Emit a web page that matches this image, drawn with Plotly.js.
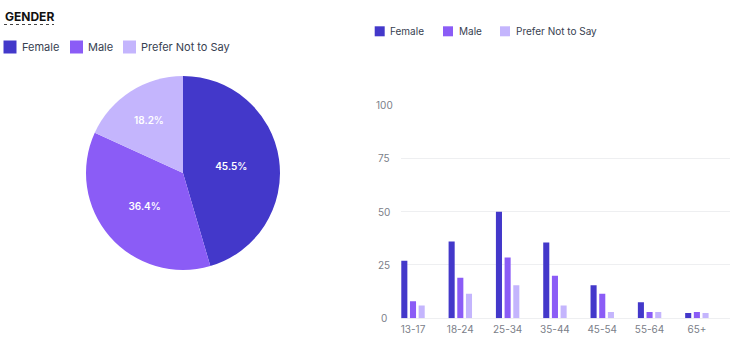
<!DOCTYPE html>
<html>
<head>
<meta charset="utf-8">
<script src="https://cdn.plot.ly/plotly-3.0.1.min.js"></script>
<style>html,body{margin:0;padding:0;background:#fff;}#chart{width:738px;height:351px;}</style>
</head>
<body>
<div id="chart"></div>
<script>
// ---- data ----
const genders = ["Female", "Male", "Prefer Not to Say"];
const genderShares = [5, 4, 2];
const ageGroups = ["13-17", "18-24", "25-34", "35-44", "45-54", "55-64", "65+"];
const femaleCounts = [27, 36, 50, 35.5, 15.5, 7.5, 2.5];
const maleCounts = [8, 19, 28.5, 20, 11.5, 3, 3];
const preferCounts = [6, 11.5, 15.5, 6, 3, 3, 2.5];
const yTicks = [0, 25, 50, 75, 100];
const colors = ["#4338ca", "#8b5cf6", "#c4b5fd"];
const chartTitle = "GENDER";

// ---- layout helpers ----
const W = 738, H = 351;
const px = x => x / W;
const py = y => 1 - y / H;
const FONT = "Inter, 'Open Sans', sans-serif";

const series = [femaleCounts, maleCounts, preferCounts];
const data = [{
  type: "pie",
  labels: genders,
  values: genderShares,
  sort: false,
  direction: "clockwise",
  rotation: 0,
  marker: {colors: colors, line: {width: 0}},
  textinfo: "percent",
  texttemplate: "%{percent:.1%}",
  textposition: "inside",
  insidetextorientation: "horizontal",
  textfont: {family: FONT, size: 10, color: "#ffffff", weight: 600},
  hoverinfo: "none",
  domain: {x: [px(86), px(280)], y: [py(270), py(76)]},
  showlegend: false
}];
series.forEach((vals, i) => {
  data.push({
    type: "bar",
    x: ageGroups,
    y: vals,
    name: genders[i],
    marker: {color: colors[i]},
    xaxis: "x", yaxis: "y",
    showlegend: false,
    hoverinfo: "none"
  });
});

const shapes = [];
const annotations = [];
// title
annotations.push({xref: "paper", yref: "paper", x: px(2.5), y: py(17), xanchor: "left", yanchor: "middle",
  text: "<b>" + chartTitle + "</b>", showarrow: false, font: {family: FONT, size: 12, color: "#111111"}});
shapes.push({type: "line", xref: "paper", yref: "paper", x0: px(4), x1: px(54), y0: py(24.5), y1: py(24.5),
  line: {color: "#444", width: 1, dash: "dot"}});

// pie legend
const pieLegSym = [3.5, 70, 123];
const pieLegTxt = [22, 88, 141];
genders.forEach((g, i) => {
  shapes.push({type: "rect", xref: "paper", yref: "paper", x0: px(pieLegSym[i]), x1: px(pieLegSym[i] + 13),
    y0: py(53.5), y1: py(40.5), fillcolor: colors[i], line: {width: 0}});
  annotations.push({xref: "paper", yref: "paper", x: px(pieLegTxt[i] - 2), y: py(47), xanchor: "left", yanchor: "middle",
    text: g, showarrow: false, font: {family: FONT, size: 11, color: "#374151"}});
});
// bar legend
const barLegSym = [374.7, 443, 500];
const barLegTxt = [390.5, 459, 516];
genders.forEach((g, i) => {
  shapes.push({type: "rect", xref: "paper", yref: "paper", x0: px(barLegSym[i]), x1: px(barLegSym[i] + 10),
    y0: py(36.3), y1: py(26.3), fillcolor: colors[i], line: {width: 0}});
  annotations.push({xref: "paper", yref: "paper", x: px(barLegTxt[i] - 2), y: py(31.3), xanchor: "left", yanchor: "middle",
    text: g, showarrow: false, font: {family: FONT, size: 10, color: "#374151"}});
});
// y tick labels (centered)
yTicks.forEach(t => {
  annotations.push({xref: "paper", yref: "y", x: px(384), y: t, xanchor: "center", yanchor: "middle",
    text: String(t), showarrow: false, font: {family: FONT, size: 10, color: "#7b8089"}});
});

const layout = {
  width: W, height: H,
  margin: {l: 0, r: 0, t: 0, b: 0},
  paper_bgcolor: "#ffffff", plot_bgcolor: "#ffffff",
  font: {family: FONT},
  showlegend: false,
  barmode: "group",
  bargap: 0.45,
  bargroupgap: 0.3,
  xaxis: {
    domain: [px(400.7), px(730)],
    range: [-0.26, 6.7],
    type: "category",
    showgrid: false, zeroline: false, showline: false,
    ticks: "", tickfont: {family: FONT, size: 10, color: "#7b8089"},
    ticklabelstandoff: 4,
    automargin: false, fixedrange: true
  },
  yaxis: {
    domain: [py(318.3), py(105)],
    range: [0, 100],
    tickvals: yTicks,
    showticklabels: false,
    showgrid: true, gridcolor: "#eeeff1", gridwidth: 1,
    zeroline: true, zerolinecolor: "#eeeff1", zerolinewidth: 1,
    showline: false, ticks: "",
    automargin: false, fixedrange: true
  },
  shapes: shapes,
  annotations: annotations
};

Plotly.newPlot("chart", data, layout, {displayModeBar: false, staticPlot: true});
</script>
</body>
</html>
